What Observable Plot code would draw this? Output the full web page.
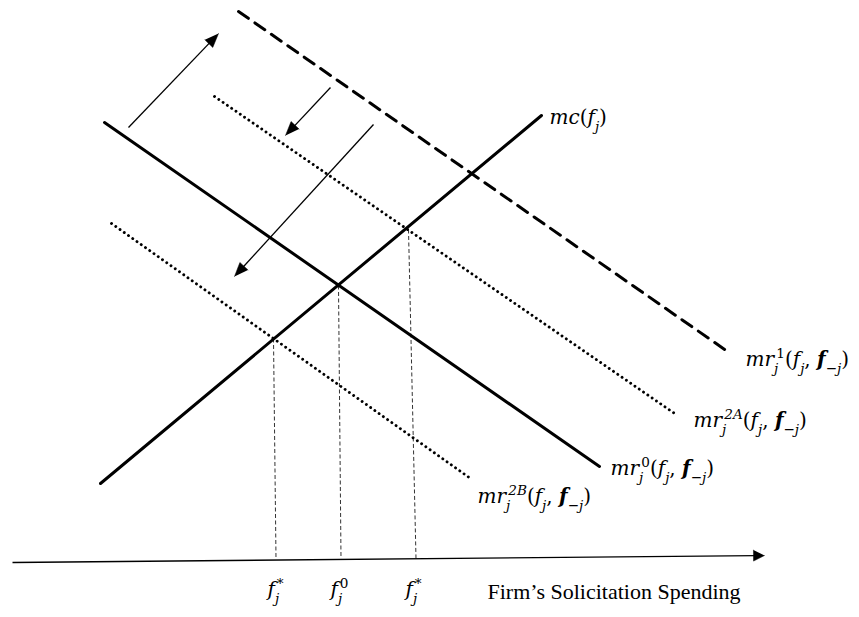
<!DOCTYPE html>
<html>
<head>
<meta charset="utf-8">
<script src="https://cdn.jsdelivr.net/npm/d3@7"></script>
<script src="https://cdn.jsdelivr.net/npm/@observablehq/plot@0.6"></script>
<style>
  html, body { margin: 0; padding: 0; background: #fff; }
  #chart svg { display: block; }
</style>
</head>
<body>
<div id="chart"></div>
<script>
// ---- Diagram data (unitless diagram coordinates, y grows downward) ----
const curveNames = ["mc", "mr0", "mr1", "mr2A", "mr2B"];
const curveX1 = [100, 104, 238, 214, 111];
const curveY1 = [483, 122, 11, 96, 223];
const curveX2 = [541, 599, 730, 677, 470];
const curveY2 = [115, 466, 353, 415, 478];
const curveKind = ["solid", "solid", "dashed", "dotted", "dotted"];

// shift arrows (tail -> head) and the horizontal axis arrow
const arrowX1 = [128, 330, 373, 12];
const arrowY1 = [127, 87, 124, 562];
const arrowX2 = [218, 285, 234, 764];
const arrowY2 = [33, 135, 276, 555];
const arrowKind = ["shift", "shift", "shift", "axis"];

// equilibrium drop lines (intersection -> axis)
const guideX1 = [273, 338, 408];
const guideY1 = [338, 285, 229];
const guideX2 = [275.5, 340.5, 415.5];
const guideY2 = [558, 558, 558];

// curve labels
const labelNames = ["mc", "mr1", "mr2A", "mr0", "mr2B"];
const labelX = [549, 745, 693, 610, 477];
const labelY = [117, 359, 420, 468, 496];
const labelSup = [null, "1", "2A", "0", "2B"];

// tick labels on the axis
const tickNames = ["fstarL", "f0", "fstarR"];
const tickX = [275, 339, 413];
const tickY = [589, 589, 589];
const tickSup = ["*", "0", "*"];

const axisTitle = "Firm\u2019s Solicitation Spending";
const axisTitleX = 487;
const axisTitleY = 591;

// ---- build tables ----
const curves = curveNames.flatMap((name, i) => [
  {name, kind: curveKind[i], x: curveX1[i], y: curveY1[i]},
  {name, kind: curveKind[i], x: curveX2[i], y: curveY2[i]}
]);
const arrows = arrowX1.map((x1, i) => ({i, kind: arrowKind[i], x1, y1: arrowY1[i], x2: arrowX2[i], y2: arrowY2[i]}));
function headFor(a) {
  const L = a.kind === "axis" ? 11 : 14, W = 5.5;
  const dx = a.x2 - a.x1, dy = a.y2 - a.y1, len = Math.hypot(dx, dy);
  const ux = dx / len, uy = dy / len;
  const bx = a.x2 - ux * L, by = a.y2 - uy * L;
  return {bx, by, pts: [
    {i: a.i, x: a.x2, y: a.y2},
    {i: a.i, x: bx - uy * W, y: by + ux * W},
    {i: a.i, x: bx + uy * W, y: by - ux * W}
  ]};
}
const shafts = arrows.map(a => { const h = headFor(a); return {...a, x2: h.bx + (a.x2 - h.bx) * 0.3, y2: h.by + (a.y2 - h.by) * 0.3}; });
const heads = arrows.flatMap(a => headFor(a).pts);
const guides = guideX1.map((x1, i) => ({x1, y1: guideY1[i], x2: guideX2[i], y2: guideY2[i]}));

const curveLabels = labelNames.map((name, i) => ({name, x: labelX[i], y: labelY[i], sup: labelSup[i], type: "curve"}));
const tickLabels = tickNames.map((name, i) => ({name, x: tickX[i], y: tickY[i], sup: tickSup[i], type: "tick"}));

function tokensFor(d) {
  if (d.name === "mc") return [
    {t: "mc"}, {t: "(", r: 1}, {t: "f"}, {t: "j", k: "sub"}, {t: ")", r: 1}
  ];
  if (d.type === "tick") return [
    {t: "f"}, {t: "j", k: "sub"}, {t: d.sup, k: "sup", back: 0.12, r: d.sup === "0"}
  ];
  return [
    {t: "mr"}, {t: "j", k: "sub"}, {t: d.sup, k: "sup", back: 0.1, r: d.sup.length === 1},
    {t: "(", r: 1}, {t: "f"}, {t: "j", k: "sub"}, {t: ", ", r: 1},
    {t: "f", b: 1}, {t: "\u2212j", k: "sub"}, {t: ")", r: 1}
  ];
}

const MATHFONT = "DejaVu Serif";

const plot = Plot.plot({
  width: 859,
  height: 617,
  margin: 0,
  x: {domain: [0, 859], range: [0, 859], axis: null},
  y: {domain: [0, 617], range: [0, 617], axis: null},
  marks: [
    Plot.link(guides, {x1: "x1", y1: "y1", x2: "x2", y2: "y2", stroke: "#333", strokeWidth: 1, strokeDasharray: "4,2.5"}),
    Plot.line(curves.filter(d => d.kind === "solid"), {x: "x", y: "y", z: "name", stroke: "black", strokeWidth: 3}),
    Plot.line(curves.filter(d => d.kind === "dashed"), {x: "x", y: "y", z: "name", stroke: "black", strokeWidth: 3, strokeDasharray: "12,8"}),
    Plot.line(curves.filter(d => d.kind === "dotted"), {x: "x", y: "y", z: "name", stroke: "black", strokeWidth: 2.9, strokeLinecap: "round", strokeDasharray: "0.01,5.2"}),
    Plot.link(shafts, {x1: "x1", y1: "y1", x2: "x2", y2: "y2", stroke: "black", strokeWidth: 1.3}),
    Plot.line(heads, {x: "x", y: "y", z: "i", fill: "black", stroke: "black", strokeWidth: 0.5}),
    Plot.text(curveLabels, {x: "x", y: "y", text: "name", textAnchor: "start", fill: "black", fontSize: 20, fontFamily: MATHFONT}),
    Plot.text(tickLabels, {x: "x", y: "y", text: "name", textAnchor: "middle", fill: "black", fontSize: 20, fontFamily: MATHFONT}),
    Plot.text([axisTitle], {x: () => axisTitleX, y: () => axisTitleY, text: d => d, textAnchor: "start", fill: "black", fontSize: 22, fontFamily: "Liberation Serif"})
  ]
});

document.getElementById("chart").appendChild(plot);

// ---- typeset the math labels as rich text (sub/superscripts) ----
const NS = "http://www.w3.org/2000/svg";
const textGroups = plot.querySelectorAll('g[aria-label="text"]');
function typeset(group, data, F) {
  group.querySelectorAll("text").forEach((el, idx) => {
    const d = data[idx];
    el.textContent = "";
    let off = 0;
    for (const tok of tokensFor(d)) {
      const ts = document.createElementNS(NS, "tspan");
      let target = 0, size = F, dx = 0;
      if (tok.k === "sub") { target = 0.33 * F; size = 0.68 * F; }
      if (tok.k === "sup") { target = -0.4 * F; size = 0.68 * F; dx = -(tok.back || 0) * F; }
      if (target - off !== 0) ts.setAttribute("dy", target - off);
      off = target;
      if (dx) ts.setAttribute("dx", dx);
      ts.setAttribute("font-size", size);
      ts.setAttribute("font-style", tok.r ? "normal" : "italic");
      if (tok.b) ts.setAttribute("font-weight", "bold");
      ts.textContent = tok.t;
      el.appendChild(ts);
    }
  });
}
typeset(textGroups[0], curveLabels, 20);
typeset(textGroups[1], tickLabels, 20);
</script>
</body>
</html>
